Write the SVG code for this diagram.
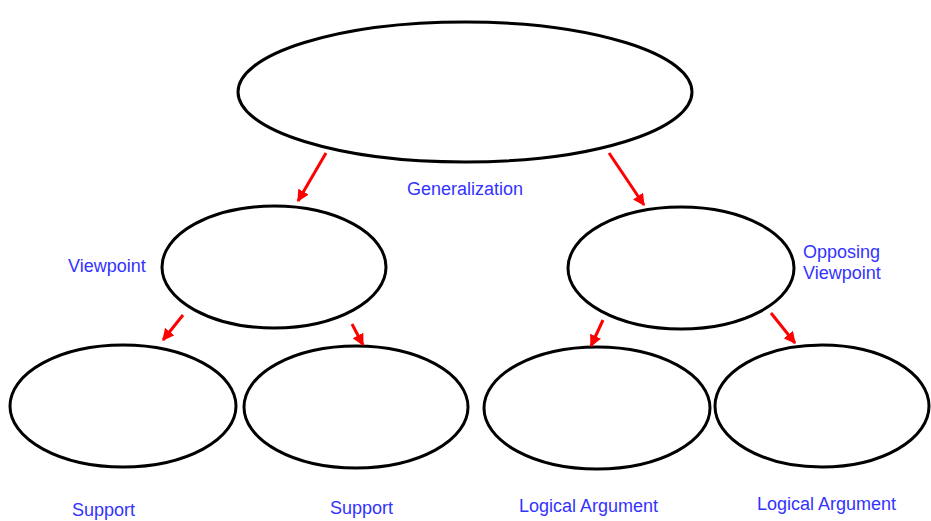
<svg xmlns="http://www.w3.org/2000/svg" width="931" height="521" viewBox="0 0 931 521">
<defs>
<style>
.node ellipse{fill:#fff;stroke:#000;stroke-width:3}
.lbl{font-family:"Liberation Sans",Arial,sans-serif;font-size:18px;fill:#3333ff}
.arr{stroke:#ff0000;stroke-width:3;fill:none;marker-end:url(#ah)}
</style>
<marker id="ah" viewBox="0 0 10 10" refX="9" refY="5" markerWidth="4" markerHeight="4" orient="auto" markerUnits="strokeWidth">
<path d="M0,0 L10,5 L0,10 z" fill="#ff0000"/>
</marker>
</defs>
<rect width="931" height="521" fill="#fff"/>
<g id="n-general" class="node"><ellipse cx="465" cy="92" rx="227" ry="70"/></g>
<g id="n-viewpoint" class="node"><ellipse cx="274" cy="267" rx="112" ry="61"/></g>
<g id="n-opposing" class="node"><ellipse cx="681" cy="268" rx="113" ry="61"/></g>
<g id="n-support1" class="node"><ellipse cx="123" cy="406" rx="113" ry="61"/></g>
<g id="n-support2" class="node"><ellipse cx="356" cy="407" rx="112" ry="61"/></g>
<g id="n-logic1" class="node"><ellipse cx="597" cy="408" rx="113" ry="61"/></g>
<g id="n-logic2" class="node"><ellipse cx="822" cy="406" rx="107" ry="61"/></g>
<g id="connectors">
<line class="arr" x1="326" y1="153" x2="298" y2="201"/>
<line class="arr" x1="609" y1="153" x2="644" y2="205"/>
<line class="arr" x1="183" y1="315" x2="163" y2="340"/>
<line class="arr" x1="352" y1="324" x2="363" y2="345"/>
<line class="arr" x1="603" y1="320" x2="591" y2="346"/>
<line class="arr" x1="771" y1="313" x2="795" y2="343"/>
</g>
<g id="labels">
<text class="lbl" x="465" y="195" text-anchor="middle">Generalization</text>
<text class="lbl" x="68" y="272">Viewpoint</text>
<text class="lbl" x="803" y="258">Opposing</text>
<text class="lbl" x="803" y="279">Viewpoint</text>
<text class="lbl" x="72" y="516">Support</text>
<text class="lbl" x="330" y="514">Support</text>
<text class="lbl" x="519" y="512">Logical Argument</text>
<text class="lbl" x="757" y="510">Logical Argument</text>
</g>
</svg>
